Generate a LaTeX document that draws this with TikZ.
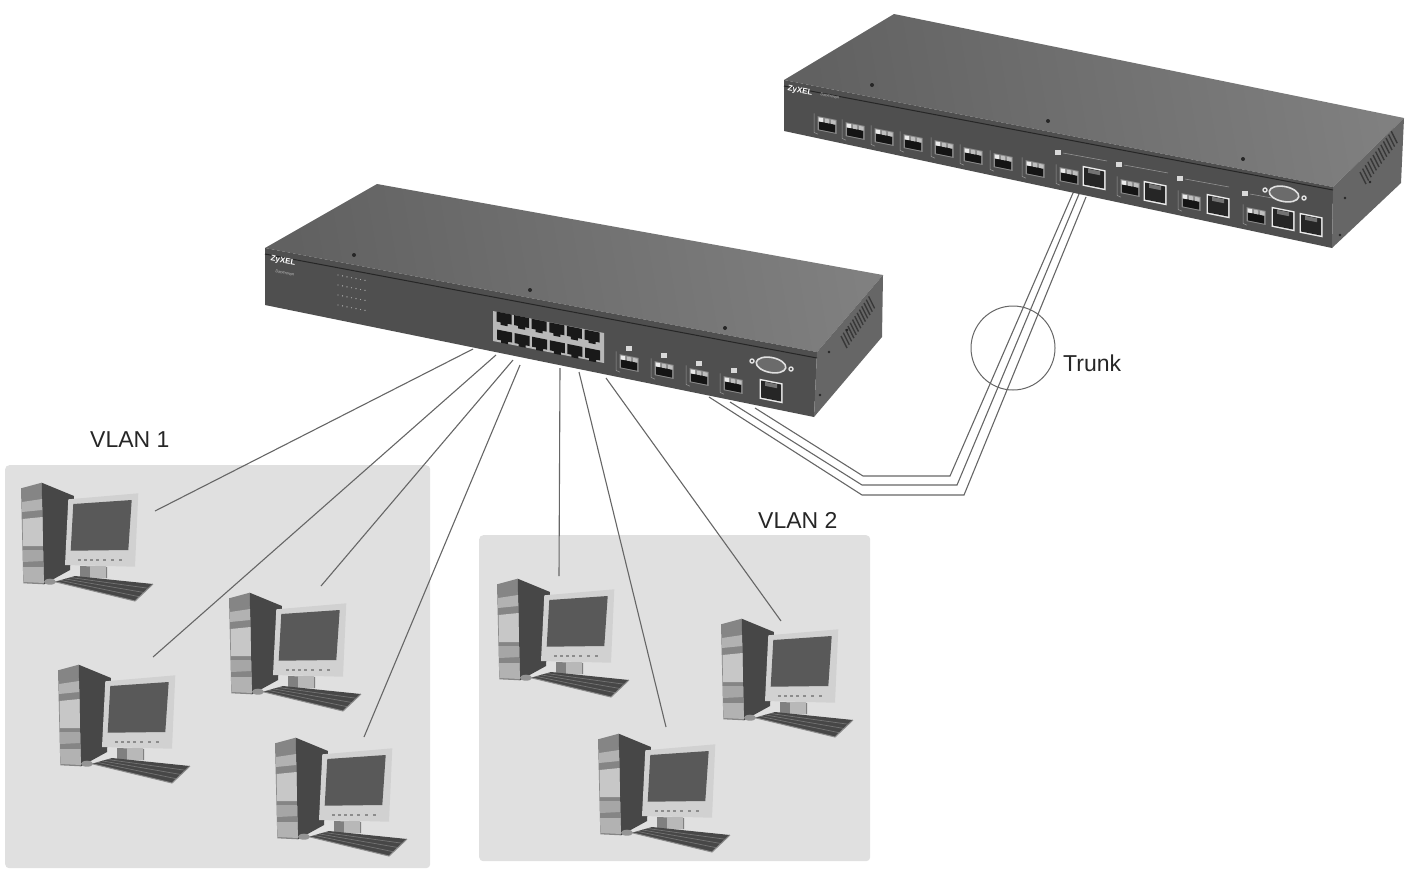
\documentclass[tikz,border=0pt]{standalone}
\usepackage{fontspec}
\setmainfont{Liberation Sans}
\usetikzlibrary{shapes}

\begin{document}
\begin{tikzpicture}[x=1pt,y=-1pt,
pannello/.style={fill=black!12,rounded corners=4pt},
cavo/.style={draw=black!60,line width=1.1pt},
etichetta/.style={font=\fontsize{23}{23}\selectfont,text=black!85,anchor=west,inner sep=0pt},
marchio/.style={font=\fontsize{8}{8}\selectfont\bfseries,text=white,inner sep=0pt},
sigla/.style={font=\fontsize{4}{4}\selectfont,text=black!25,inner sep=0pt},
cerchio/.style={draw=black!60,line width=1pt,circle,minimum size=84pt,inner sep=0pt},
sopra/.style={left color=black!62,right color=black!50,shading angle=100},
fronte/.style={fill=black!69},
lato/.style={fill=black!60},
vite/.style={fill=black!85},
fessura/.style={draw=black!78,line width=1.4pt},
presa/.pic={
  \fill[black!90] (-7.5,-6) -- (7.5,-6) -- (7.5,4) -- (3.5,4) -- (3.5,6.5) -- (-3.5,6.5) -- (-3.5,4) -- (-7.5,4) -- cycle;
},
portarj/.pic={
  \fill[black!8] (-11.5,-10) rectangle (11.5,10);
  \fill[black!85] (-10,-8.5) rectangle (10,8.5);
  \fill[black!55] (-6,-8) rectangle (6,-4);
},
portasfp/.pic={
  \fill[black!45] (-9.5,-7) rectangle (9.5,7);
  \fill[black!92] (-8,-2) rectangle (8,6);
  \fill[black!8] (-8.5,-6) rectangle (-4,-2);
  \fill[black!25] (-2,-6) rectangle (2,-2);
  \fill[black!25] (4,-6) rectangle (8.5,-2);
  \draw[black!40,line width=.5pt] (-13,-9) -- (-13,10) -- (-9,11);
},
computer/.pic={
  % torre
  \fill[black!48] (0,5.3) -- (20.7,-.3) -- (23,101.3) -- (2.3,100.3) -- cycle;
  \fill[black!72] (20.7,-.3) -- (53,13) -- (49,87) -- (23,101.3) -- cycle;
  \fill[black!30] (1,19) -- (21,16) -- (21,27) -- (1,29) -- cycle;
  \fill[black!22] (1.5,36) -- (21.5,34) -- (22,63) -- (2,63) -- cycle;
  \fill[black!35] (2,67) -- (22,67) -- (22,78) -- (2,79) -- cycle;
  \fill[black!30] (2,84) -- (22.5,84) -- (23,100) -- (2.5,99) -- cycle;
  % supporto
  \fill[black!50] (59,83) -- (86,84) -- (86,95) -- (59,95) -- cycle;
  \fill[black!28] (69,83) -- (85,83) -- (85,95) -- (69,95) -- cycle;
  % schermo
  \fill[black!18] (47.3,16.3) -- (117.3,10.3) -- (114,83.7) -- (44,82) -- cycle;
  \fill[black!65] (52.3,21) -- (110.7,17) -- (107.3,67) -- (49.7,67.7) -- cycle;
  \foreach \x in {57,63,69,75,82,90,98}
    \fill[black!45] (\x,75.5) rectangle +(3,2);
  % tastiera
  \fill[black!72] (34,98.7) -- (54,93) -- (132,101) -- (114,118) -- cycle;
  \foreach \s in {.25,.5,.75}
    \draw[black!55,line width=.7pt] (34+20*\s,98.7-5.7*\s) -- (114+18*\s,118-17*\s);
  \draw[black!45,line width=1pt] (34,98.7) -- (114,118) -- (132,101);
  \fill[black!42] (29,98.7) ellipse [x radius=6,y radius=3];
}
]
\useasboundingbox (0,0) rectangle (1407,868);
%--
\node[pannello,minimum width=425pt,minimum height=403pt,anchor=north west] (vlanuno) at (5,465) {};
\node[pannello,minimum width=391pt,minimum height=326pt,anchor=north west] (vlandue) at (479,535) {};
%-- secondo switch
\path[sopra] (894,14) -- (1404,118) -- (1333,187) -- (784,80) -- cycle;
\fill[fronte] (784,80) -- (1333,187) -- (1332,248) -- (784,131) -- cycle;
\fill[lato] (1333,187) -- (1404,118) -- (1401,183) -- (1332,248) -- cycle;
\draw[black!85,line width=1pt] (784,86) -- (1333,190);
\foreach \x/\y in {872/85,1048/121,1243/159} \fill[vite] (\x,\y) circle (2);
\foreach \i in {0,...,12} \draw[fessura] (1360+2.6*\i,172-3.4*\i) -- +(6,12);
\foreach \x/\y in {1345/198,1340/235,1370/182} \fill[vite] (\x,\y) circle (1.3);
\node[marchio,rotate=-11] (marcadue) at (800,91) {ZyXEL};
\node[sigla,rotate=-11] (nomedue) at (830,96) {Dimension};
\foreach \x/\y in {827/125,855/131,884/137,913/143,944/149,973/156,1003/162,1035/169,1069/176,1130/188,1191/202,1256/216}
  \pic[yslant=-.2] at (\x,\y) {portasfp};
\foreach \x/\y in {1094/178,1155/193,1218/206,1283/219,1311/225}
  \pic[yslant=-.2] at (\x,\y) {portarj};
\foreach \x/\y in {1069/150,1130/162,1191/176,1256/191} {
  \fill[black!15] (\x-14,\y) rectangle +(6,5);
  \draw[black!40,line width=.5pt] (\x-6,\y+3) -- (\x+38,\y+11);
}
%-- console del secondo switch
\node[draw=black!12,line width=1.6pt,fill=black!58,ellipse,minimum width=30pt,minimum height=15pt,rotate=-11] (consoledue) at (1284,194) {};
\node[draw=black!12,line width=1.4pt,circle,minimum size=4pt,inner sep=0pt] (vsdue) at (1265,190) {};
\node[draw=black!12,line width=1.4pt,circle,minimum size=4pt,inner sep=0pt] (vddue) at (1304,198) {};
%-- primo switch
\path[sopra] (377,184) -- (883,275) -- (817,352) -- (265,248) -- cycle;
\fill[fronte] (265,248) -- (817,352) -- (814,417) -- (265,305) -- cycle;
\fill[lato] (817,352) -- (883,275) -- (882,337) -- (814,417) -- cycle;
\draw[black!85,line width=1pt] (265,254) -- (817,358);
\foreach \x/\y in {354/255,530/290,725/328} \fill[vite] (\x,\y) circle (2);
\foreach \i in {0,...,12} \draw[fessura] (841+2.3*\i,336-3.3*\i) -- +(6,12);
\foreach \x/\y in {829/352,820/395,847/330} \fill[vite] (\x,\y) circle (1.3);
\node[marchio,rotate=-11] (marcauno) at (283,261) {ZyXEL};
\node[sigla,rotate=-11] (nomeuno) at (285,273) {Dimension};
\foreach \i in {0,...,3} \foreach \j in {0,...,6}
  \fill[black!35] (338+4.5*\j,275+.9*\j+\i*10) circle (.7);
%-- porte del primo switch
\fill[black!28] (493,311) -- (604,333) -- (604,363) -- (493,341) -- cycle;
\foreach \i in {0,...,5} {
  \pic[yslant=-.2] at (504+17.6*\i,319+3.6*\i) {presa};
  \pic[yslant=-.2] at (504.5+17.6*\i,337+3.6*\i) {presa};
}
\foreach \x/\y in {629/363,664/370,699/377,733/385}
  \pic[yslant=-.2] at (\x,\y) {portasfp};
\foreach \x/\y in {629/348,664/355,699/363,734/370}
  \fill[black!15] (\x-3,\y-2) rectangle +(6,5);
\pic[yslant=-.2] at (771,391) {portarj};
%-- console del primo switch
\node[draw=black!12,line width=1.6pt,fill=black!58,ellipse,minimum width=30pt,minimum height=15pt,rotate=-11] (consoleuno) at (771,365) {};
\node[draw=black!12,line width=1.4pt,circle,minimum size=4pt,inner sep=0pt] (vsuno) at (752,361) {};
\node[draw=black!12,line width=1.4pt,circle,minimum size=4pt,inner sep=0pt] (vduno) at (791,369) {};
%-- computer
\foreach \nome/\x/\y in {pca/21/483,pcb/58/665,pcc/229/593,pcd/275/738,pce/497/579,pcf/721/619,pcg/598/734}
  \pic (\nome) at (\x,\y) {computer};
%-- cavi VLAN 1
\coordinate (sa) at (473,349); \coordinate (ca) at (155,511);
\draw[cavo] (sa) -- (ca);
\coordinate (sb) at (496,355); \coordinate (cb) at (153,657);
\draw[cavo] (sb) -- (cb);
\coordinate (sc) at (513,360); \coordinate (cc) at (321,586);
\draw[cavo] (sc) -- (cc);
\coordinate (sd) at (520,365); \coordinate (cd) at (364,737);
\draw[cavo] (sd) -- (cd);
%-- cavi VLAN 2
\coordinate (se) at (560,368); \coordinate (ce) at (559,576);
\draw[cavo] (se) -- (ce);
\coordinate (sf) at (579,372); \coordinate (cf) at (666,727);
\draw[cavo] (sf) -- (cf);
\coordinate (sg) at (606,378); \coordinate (cg) at (781,621);
\draw[cavo] (sg) -- (cg);
%-- trunk
\coordinate (ta) at (755,408); \coordinate (ua) at (1073,193);
\draw[cavo] (ta) -- (863,476) -- (950,476) -- (ua);
\coordinate (tb) at (730,402); \coordinate (ub) at (1079,194);
\draw[cavo] (tb) -- (862,485) -- (957,485) -- (ub);
\coordinate (tc) at (709,397); \coordinate (uc) at (1086,197);
\draw[cavo] (tc) -- (862,495) -- (964,495) -- (uc);
\node[cerchio] (anello) at (1013,348) {};
%-- testi
\node[etichetta] (trunk) at (1063,363) {Trunk};
\node[etichetta] (vlana) at (90,440) {VLAN 1};
\node[etichetta] (vlanb) at (758,520) {VLAN 2};
\end{tikzpicture}
\end{document}
